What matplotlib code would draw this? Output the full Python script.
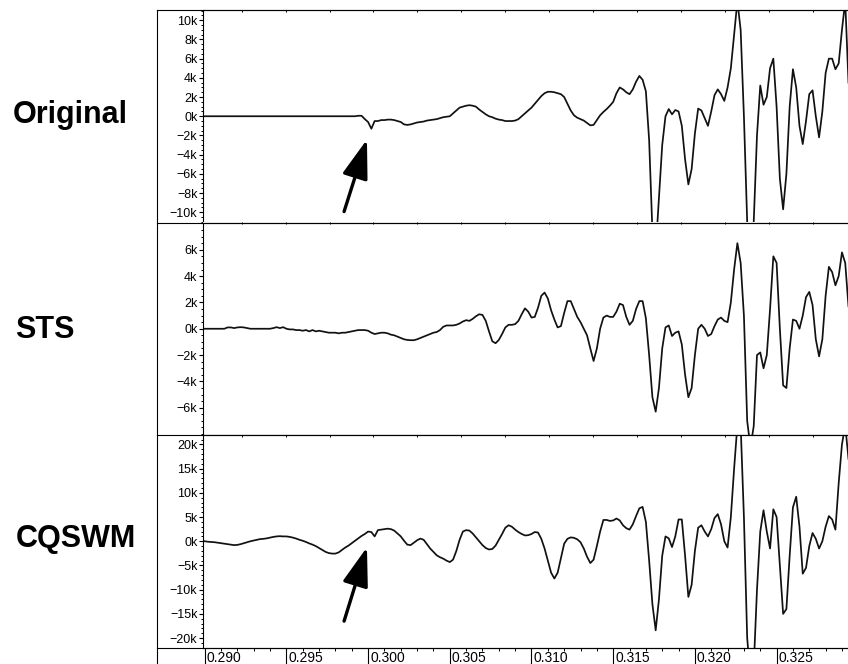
import numpy as np
import matplotlib
matplotlib.use("Agg")
import matplotlib.pyplot as plt
import matplotlib.transforms as mtransforms
from matplotlib.lines import Line2D
from matplotlib.ticker import MultipleLocator, FixedLocator, FuncFormatter

plt.rcParams['font.family'] = ['Liberation Sans', 'DejaVu Sans']

# sample grid (seconds)
t_start = 0.2900
dt = 0.0002

# amplitudes in thousands, one value per sample
orig = [
    0, 0, 0, 0, 0, 0, 0, 0, 0, 0,
    0, 0, 0, 0, 0, 0, 0, 0, 0, 0,
    0, 0, 0, 0, 0, 0, 0, 0, 0, 0,
    0, 0, 0, 0, 0, 0, 0, 0, 0, 0,
    0, 0, 0, 0, 0, 0, 0, 0.05, 0.05, -0.3,
    -0.6, -1.3, -0.5, -0.5, -0.4, -0.4, -0.35, -0.35, -0.4, -0.5,
    -0.6, -0.85, -0.9, -0.85, -0.75, -0.65, -0.6, -0.55, -0.45, -0.4,
    -0.35, -0.3, -0.2, -0.1, -0.05, 0.0, 0.3, 0.6, 0.9, 1.0,
    1.1, 1.15, 1.1, 1.0, 0.7, 0.45, 0.2, 0.0, -0.1, -0.25,
    -0.35, -0.4, -0.5, -0.5, -0.5, -0.45, -0.3, 0.0, 0.3, 0.6,
    0.9, 1.3, 1.7, 2.1, 2.4, 2.55, 2.55, 2.5, 2.4, 2.3,
    2.0, 1.3, 0.6, 0.1, -0.15, -0.3, -0.45, -0.7, -0.95, -0.9,
    -0.4, 0.1, 0.45, 0.75, 1.1, 1.5, 2.4, 3.0, 2.8, 2.5,
    2.3, 2.8, 3.6, 4.2, 3.8, 2.6, -2.5, -12.0, -14.0, -8.5,
    -3.0, 0.0, 0.75, 0.2, 0.65, 0.5, -1.0, -4.5, -7.1, -5.5,
    -1.8, 0.8, 0.6, -0.2, -1.0, 0.5, 2.2, 2.8, 2.3, 1.6,
    3.0, 5.0, 8.5, 12.0, 9.0, 0.0, -11.0, -14.0, -11.0, -2.0,
    3.2, 1.2, 2.0, 5.0, 6.0, 1.0, -6.5, -9.7, -6.0, 1.0,
    4.9, 3.0, -1.0, -2.9, -0.5, 2.3, 2.7, 0.0, -2.2, 0.5,
    4.5, 6.0, 6.0, 4.9, 5.5, 9.0, 12.0, 3.5,
]

sts = [
    0, 0, 0, 0, 0, 0, 0, 0.1, 0.1, 0.05,
    0.1, 0.12, 0.1, 0.05, 0, 0, 0, 0, 0, 0,
    0, 0.05, 0.12, 0.05, 0.12, 0.0, -0.05, -0.05, -0.1, -0.1,
    -0.15, -0.1, -0.2, -0.1, -0.2, -0.15, -0.2, -0.25, -0.3, -0.3,
    -0.3, -0.35, -0.3, -0.3, -0.25, -0.2, -0.15, -0.1, -0.1, -0.1,
    -0.15, -0.3, -0.4, -0.35, -0.3, -0.3, -0.35, -0.45, -0.5, -0.6,
    -0.7, -0.8, -0.85, -0.87, -0.87, -0.8, -0.7, -0.6, -0.5, -0.4,
    -0.3, -0.25, -0.1, 0.15, 0.25, 0.25, 0.25, 0.3, 0.4, 0.55,
    0.65, 0.6, 0.75, 0.95, 1.1, 1.05, 0.6, -0.2, -0.95, -1.1,
    -0.85, -0.4, 0.1, 0.3, 0.3, 0.35, 0.6, 1.1, 1.55, 1.3,
    0.85, 0.9, 1.6, 2.5, 2.75, 2.3, 1.4, 0.7, 0.1, 0.2,
    1.2, 2.1, 2.1, 1.5, 0.9, 0.5, 0.0, -0.5, -1.5, -2.45,
    -1.5, 0.0, 0.85, 1.0, 0.9, 0.9, 1.3, 1.9, 1.8, 0.9,
    0.3, 0.6, 1.5, 2.1, 2.1, 0.8, -2.0, -5.2, -6.3, -4.5,
    -1.5, 0.1, 0.25, -0.55, -0.3, -0.2, -1.2, -3.5, -5.2, -4.5,
    -2.0, 0.0, 0.3, 0.0, -0.55, -0.4, 0.2, 0.7, 0.85, 0.6,
    0.5, 2.0, 4.5, 6.5, 5.0, 1.0, -7.0, -9.0, -7.4, -2.0,
    -1.8, -3.0, -2.0, 1.5, 5.5, 5.0, 0.0, -4.3, -4.5, -1.5,
    0.7, 0.6, 0.0, 1.0, 2.4, 2.8, 1.8, -0.8, -2.1, -0.8,
    2.5, 4.7, 4.3, 3.3, 4.0, 5.8, 5.0, 1.7,
]

cqswm = [
    0.0, -0.1, -0.15, -0.2, -0.3, -0.4, -0.5, -0.6, -0.7, -0.8,
    -0.75, -0.6, -0.4, -0.2, 0.0, 0.15, 0.3, 0.45, 0.5, 0.6,
    0.75, 0.9, 1.0, 1.05, 1.0, 1.0, 0.9, 0.75, 0.55, 0.3,
    0.1, -0.15, -0.45, -0.7, -1.0, -1.4, -1.8, -2.2, -2.45, -2.55,
    -2.55, -2.3, -1.8, -1.3, -0.9, -0.4, 0.1, 0.6, 1.1, 1.5,
    2.0, 1.9, 1.0, 2.3, 2.4, 2.5, 2.6, 2.5, 2.2, 1.6,
    1.0, 0.1, -0.7, -0.8, -0.3, 0.2, 0.55, 0.3, -0.6, -1.5,
    -2.2, -2.9, -3.3, -3.6, -4.0, -4.3, -3.8, -2.0, 0.3, 2.0,
    2.3, 2.2, 1.6, 0.8, 0.0, -0.8, -1.4, -1.7, -1.6, -0.9,
    0.3, 1.5, 2.8, 3.3, 3.0, 2.4, 1.9, 1.5, 1.2, 1.25,
    1.5, 1.9, 1.8, 0.5, -1.5, -4.0, -6.5, -7.7, -6.5, -3.5,
    -0.5, 0.5, 0.8, 0.7, 0.4, -0.2, -1.5, -3.2, -4.5, -3.8,
    -1.0, 2.0, 4.4, 4.4, 4.2, 4.3, 4.7, 4.3, 3.3, 2.7,
    2.4, 3.5, 5.2, 6.8, 7.1, 4.0, -4.0, -13.0, -18.4, -12.0,
    -3.0, 1.0, 0.6, -1.2, 1.0, 4.5, 4.5, -3.0, -11.5, -9.0,
    -2.0, 2.8, 3.3, 2.0, 1.0, 2.5, 4.8, 5.6, 3.5, 0.0,
    -1.3, 5.0, 15.0, 24.0, 24.0, 5.0, -20.0, -28.0, -26.0, -10.0,
    2.0, 6.4, 2.0, -1.5, 6.6, 5.0, -5.0, -15.0, -14.0, -3.0,
    7.0, 9.2, 3.0, -6.7, -5.5, -1.0, 1.7, 0.5, -1.5, 0.0,
    3.0, 5.2, 4.5, 2.4, 12.0, 20.0, 24.0, 17.0,
]

series = [orig, sts, cqswm]
names = ['Original', 'STS', 'CQSWM']
xtick_vals = [0.290, 0.295, 0.300, 0.305, 0.310, 0.315, 0.320, 0.325]

# figure is laid out in pixels
W, H = 848, 664
fig = plt.figure(figsize=(W / 100, H / 100), dpi=100)


def fx(px):
    return px / W


def fy(py):
    return 1 - py / H


panel_px = [(10, 222.5), (222.5, 435), (435, 647.5)]
ylims = [11.07, 8.07, 21.95]
ymax_label = [10, 6, 20]
ymajor = [2, 2, 5]
yminor = [0.5, 0.5, 1]
label_pos = [(70.5, 123.5), (45, 338), (76, 546.5)]
x0, x1 = 0.289896, 0.329431

kfmt = FuncFormatter(lambda v, pos: f"{v:g}k".replace('-', '\u2212'))

axes = []
for i, (top, bot) in enumerate(panel_px):
    ax = fig.add_axes([fx(203), fy(bot), (849 - 203) / W, (bot - top) / H])
    t = t_start + dt * np.arange(len(series[i]))
    ax.plot(t, series[i], color='#111111', lw=1.25)
    ax.set_xlim(x0, x1)
    ax.set_ylim(-ylims[i], ylims[i])
    m = ymax_label[i]
    ax.yaxis.set_major_locator(FixedLocator(np.arange(-m, m + 0.1, ymajor[i])))
    ax.yaxis.set_minor_locator(MultipleLocator(yminor[i]))
    ax.yaxis.set_major_formatter(kfmt)
    ax.tick_params(axis='y', which='major', length=3, width=0.8, pad=1,
                   labelsize=9, direction='out')
    ax.tick_params(axis='y', which='minor', length=1.6, width=0.7, direction='out')
    ax.spines['right'].set_visible(False)
    for s in ('left', 'top', 'bottom'):
        ax.spines[s].set_linewidth(0.8)
    ax.set_xticks([])
    # little ruler marks along the top edge
    top_ax = ax.secondary_xaxis('top')
    top_ax.xaxis.set_major_locator(FixedLocator(np.arange(0.29226, 0.3300, 0.00269)))
    top_ax.tick_params(direction='in', length=1.5, width=0.7, labeltop=False)
    top_ax.spines['top'].set_visible(False)
    fig.text(fx(label_pos[i][0]), fy(label_pos[i][1]), names[i],
             ha='center', va='baseline', fontsize=22, fontweight='bold')
    axes.append(ax)

# time ruler under the last panel
ax3 = axes[2]
ax3.set_xticks(xtick_vals)
ax3.xaxis.set_minor_locator(MultipleLocator(0.001))
ax3.tick_params(axis='x', which='major', length=12, width=0.8, direction='out',
                labelbottom=False)
ax3.tick_params(axis='x', which='minor', length=2.5, width=0.7, direction='out')
trans = mtransforms.blended_transform_factory(ax3.transData, ax3.transAxes)
trans = mtransforms.offset_copy(trans, fig=fig, x=2, y=-3, units='dots')
for v in xtick_vals:
    ax3.text(v, 0, f"{v:.3f}", transform=trans, ha='left', va='top',
             fontsize=10, clip_on=False)

# outer frame around labels and panels
fig.add_artist(Line2D([fx(156.5), fx(156.5)], [fy(10), 0], transform=fig.transFigure,
                      color='black', lw=0.8))
for py in (10, 222.5, 435, 647.5):
    fig.add_artist(Line2D([fx(156.5), 1], [fy(py), fy(py)], transform=fig.transFigure,
                          color='black', lw=0.8))

# arrows at the onset
arrow_props = dict(arrowstyle='-|>,head_length=1.2,head_width=0.4', color='black',
                   lw=2.4, mutation_scale=20, shrinkA=0, shrinkB=0)
axes[0].annotate('', xy=(0.29993, -2.43), xytext=(0.29853, -9.93), arrowprops=arrow_props)
axes[2].annotate('', xy=(0.29993, -1.24), xytext=(0.29853, -16.5), arrowprops=arrow_props)

fig.savefig('out.png', dpi=100)
